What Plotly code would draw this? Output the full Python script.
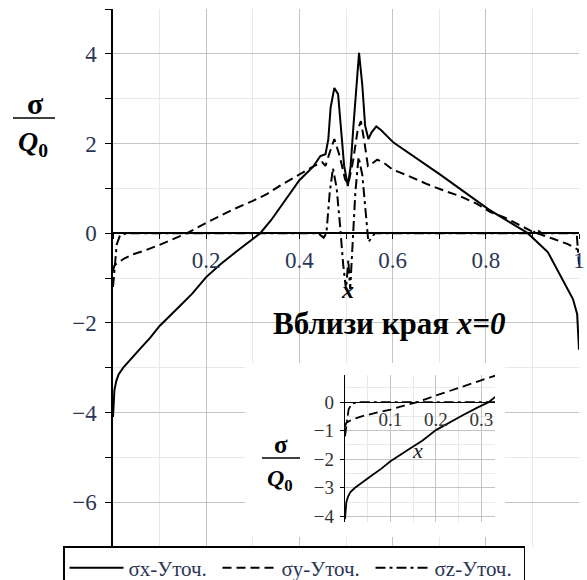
import plotly.graph_objects as go

# ---- data: stresses sigma / Q0 along x ----
x_sx = [0.0, 0.003, 0.007, 0.012, 0.022, 0.04, 0.058, 0.08, 0.10, 0.144, 0.17, 0.2,
        0.23, 0.26, 0.29, 0.316, 0.34, 0.366, 0.40, 0.43, 0.445, 0.456, 0.462, 0.467,
        0.475, 0.483, 0.49, 0.496, 0.504, 0.51, 0.516, 0.522, 0.528, 0.535, 0.541,
        0.548, 0.555, 0.565, 0.575, 0.602, 0.65, 0.703, 0.75, 0.806, 0.85, 0.875,
        0.89, 0.933, 0.952, 0.968, 0.987, 0.996, 1.0]
s_x = [-4.1, -3.5, -3.3, -3.15, -3.0, -2.78, -2.58, -2.33, -2.07, -1.62, -1.35, -0.98,
       -0.7, -0.45, -0.2, 0.0, 0.3, 0.69, 1.18, 1.49, 1.72, 1.76, 2.09, 2.8,
       3.24, 3.1, 2.2, 1.5, 1.05, 1.5, 2.4, 3.3, 4.02, 3.3, 2.4,
       2.1, 2.25, 2.38, 2.3, 2.02, 1.68, 1.3, 0.95, 0.53, 0.25, 0.09,
       0.0, -0.42, -0.8, -1.09, -1.47, -1.8, -2.6]

x_sy = [0.0, 0.003, 0.01, 0.025, 0.043, 0.07, 0.10, 0.13, 0.159, 0.198, 0.23, 0.258,
        0.30, 0.33, 0.36, 0.40, 0.43, 0.449, 0.456, 0.465, 0.475, 0.487, 0.498, 0.505,
        0.515, 0.525, 0.532, 0.54, 0.547, 0.557, 0.567, 0.58, 0.60, 0.64, 0.675, 0.71,
        0.746, 0.78, 0.81, 0.84, 0.86, 0.903, 0.946, 0.975, 1.0]
s_y = [-0.85, -0.72, -0.66, -0.56, -0.47, -0.38, -0.26, -0.12, 0.0, 0.22, 0.38, 0.53,
       0.72, 0.87, 1.07, 1.3, 1.49, 1.58, 1.5, 1.8, 2.1, 1.7, 1.2, 1.1,
       1.6, 2.3, 2.5, 2.0, 1.5, 1.56, 1.64, 1.58, 1.42, 1.25, 1.09, 0.95,
       0.82, 0.66, 0.47, 0.35, 0.24, 0.02, -0.13, -0.24, -0.38]

x_sz = [0.0, 0.004, 0.008, 0.015, 0.03, 0.44, 0.452, 0.458, 0.465, 0.472, 0.48, 0.487,
        0.494, 0.5, 0.505, 0.509, 0.514, 0.52, 0.527, 0.535, 0.542, 0.548, 0.555, 0.562,
        0.9, 0.91, 0.92, 0.995, 1.0]
s_z = [-1.2, -0.7, -0.25, -0.05, 0.0, 0.0, -0.1, 0.0, 0.9, 1.45, 1.0, 0.2,
       -0.7, -1.25, -0.6, -1.25, -0.3, 0.9, 1.7, 1.3, 0.5, -0.2, -0.1, 0.0,
       0.0, 0.08, 0.0, 0.0, -0.7]

series_names = ["σx-Уточ.", "σy-Уточ.", "σz-Уточ."]
main_xticks = [0.2, 0.4, 0.6, 0.8, 1.0]
main_xticktext = ["0.2", "0.4", "0.6", "0.8", "1"]
inset_xticks = [0.1, 0.2, 0.3]
inset_xticktext = ["0.1", "0.2", "0.3"]

# ---- layout geometry (pixels) ----
W, H = 587, 580
L, R, T, B = 113, 579, 9, 547          # main plot area edges


def fx(px):
    return (px - L) / (R - L)


def fy(py):
    return (B - py) / (B - T)


MAIN_YR = [-7, 5]
INSET_XR = [0, 0.33]
INSET_YR = [-4.2, 0.95]
inset_dom_x = [fx(345), fx(495)]
inset_dom_y = [fy(522), fy(375)]

SERIF = "Times New Roman, Liberation Serif, DejaVu Serif, serif"
TICK_COL = "#2b3556"
MAJ_GRID = "#c4c4c4"
MIN_GRID = "#e8e8e8"

styles = [dict(color="black", width=2, dash="solid"),
          dict(color="black", width=2, dash="9px,5px"),
          dict(color="black", width=2, dash="10px,4px,3px,4px")]
xs = [x_sx, x_sy, x_sz]
ys = [s_x, s_y, s_z]

fig = go.Figure()
for i in range(3):
    fig.add_trace(go.Scatter(x=xs[i], y=ys[i], mode="lines", line=styles[i],
                             name=series_names[i], xaxis="x", yaxis="y"))

# white panel behind the inset (hides the main grid there)
fig.add_trace(go.Scatter(x=[None], y=[None], xaxis="x2", yaxis="y2",
                         showlegend=False, hoverinfo="skip"))

# inset: neighbourhood of the edge x=0
for i in range(3):
    fig.add_trace(go.Scatter(x=xs[i], y=ys[i], mode="lines",
                             line=dict(color="black", width=1.8, dash=styles[i]["dash"]),
                             showlegend=False, xaxis="x3", yaxis="y3"))

main_x0_pos = (0 - MAIN_YR[0]) / (MAIN_YR[1] - MAIN_YR[0])
inset_x0_pos = inset_dom_y[0] + (0 - INSET_YR[0]) / (INSET_YR[1] - INSET_YR[0]) * (
    inset_dom_y[1] - inset_dom_y[0])

hidden = dict(showgrid=False, zeroline=False, showline=False, showticklabels=False,
              ticks="")

fig.update_layout(
    width=W, height=H,
    margin=dict(l=L, r=W - R, t=T, b=H - B, autoexpand=False),
    paper_bgcolor="white", plot_bgcolor="white",
    font=dict(family=SERIF, color=TICK_COL),
    xaxis=dict(range=[0, 1.0], domain=[0, 1], anchor="free", position=main_x0_pos,
               tickmode="array", tickvals=main_xticks, ticktext=main_xticktext,
               ticks="outside", ticklen=5, tickcolor="black", ticklabelstandoff=1,
               tickfont=dict(size=23, family=SERIF, color=TICK_COL),
               showgrid=True, gridcolor=MAJ_GRID, gridwidth=1,
               showline=True, linecolor="black", linewidth=1.5, zeroline=False,
               minor=dict(tickmode="linear", tick0=0, dtick=0.1, ticks="outside",
                          ticklen=5, tickcolor="black", showgrid=True,
                          gridcolor=MIN_GRID)),
    yaxis=dict(range=MAIN_YR, domain=[0, 1], anchor="x", tick0=0, dtick=2,
               ticks="outside", ticklen=6, tickcolor="black", ticklabelstandoff=4,
               tickfont=dict(size=23, family=SERIF, color=TICK_COL),
               showgrid=True, gridcolor=MAJ_GRID, gridwidth=1,
               showline=True, linecolor="black", linewidth=1.5, zeroline=False,
               minor=dict(tick0=0, dtick=1, ticks="outside", ticklen=6,
                          tickcolor="black", showgrid=True, gridcolor=MIN_GRID)),
    xaxis2=dict(domain=[fx(245), fx(505)], anchor="y2", range=[0, 1], **hidden),
    yaxis2=dict(domain=[fy(537), fy(363)], anchor="x2", range=[0, 1], **hidden),
    xaxis3=dict(range=INSET_XR, domain=inset_dom_x, anchor="free",
                position=inset_x0_pos,
                tickmode="array", tickvals=inset_xticks, ticktext=inset_xticktext,
                ticks="", ticklabelstandoff=0,
                tickfont=dict(size=19, family=SERIF, color="#333"),
                showgrid=True, gridcolor=MAJ_GRID, showline=True, linecolor="black",
                linewidth=1.3, zeroline=False,
                minor=dict(tickmode="linear", tick0=0, dtick=0.05, showgrid=True,
                           gridcolor=MIN_GRID)),
    yaxis3=dict(range=INSET_YR, domain=inset_dom_y, anchor="x3", tick0=0, dtick=1,
                ticks="outside", ticklen=4, tickcolor="black", ticklabelstandoff=2,
                tickfont=dict(size=19, family=SERIF, color="#333"),
                showgrid=True, gridcolor=MAJ_GRID, showline=True, linecolor="black",
                linewidth=1.3, zeroline=False,
                minor=dict(tick0=0, dtick=0.5, showgrid=True, gridcolor=MIN_GRID)),
    legend=dict(orientation="h", xref="container", yref="container",
                x=63 / W, xanchor="left", y=(H - 546) / H, yanchor="top",
                bordercolor="black", borderwidth=1.5, bgcolor="white",
                font=dict(size=21, family=SERIF, color=TICK_COL),
                entrywidth=84, itemwidth=54, tracegroupgap=0),
    showlegend=True,
)


def label(px, py, text, size, color="black"):
    return dict(x=fx(px), y=fy(py), xref="paper", yref="paper", showarrow=False,
                xanchor="center", yanchor="middle", text=text,
                font=dict(size=size, family=SERIF, color=color))


ann = [
    # main ordinate label sigma / Q0
    label(35, 104, "<b>σ</b>", 30),
    label(33, 143, "<b><i>Q</i></b><b><sub>0</sub></b>", 28),
    # main abscissa label
    label(347, 290, "<b><i>x</i></b>", 24),
    # inset caption
    label(389, 324, "<b>Вблизи края <i>x=0</i></b>", 31),
    # inset ordinate label
    label(281, 445, "<b>σ</b>", 25),
    label(280, 480, "<b><i>Q</i></b><b><sub>0</sub></b>", 24),
    # inset abscissa label
    label(417, 450, "<i>x</i>", 22, "#222"),
]
shapes = [
    dict(type="line", xref="paper", yref="paper", x0=fx(13), x1=fx(55),
         y0=fy(118), y1=fy(118), line=dict(color="black", width=1.5)),
    dict(type="line", xref="paper", yref="paper", x0=fx(262), x1=fx(300),
         y0=fy(458), y1=fy(458), line=dict(color="black", width=1.3)),
]

fig.update_layout(annotations=ann, shapes=shapes)
fig.write_html("out.html")
